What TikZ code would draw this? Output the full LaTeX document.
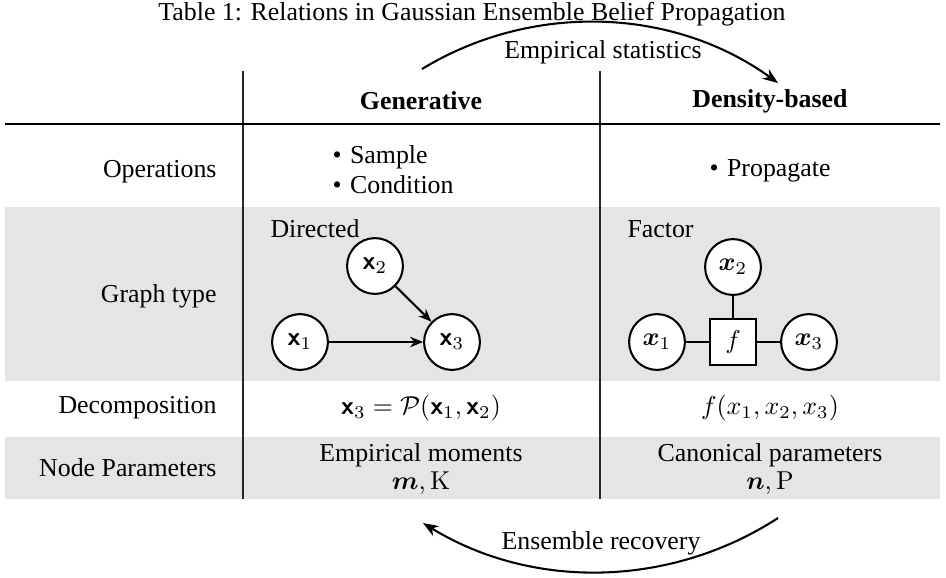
\documentclass[tikz,border=0pt]{standalone}
\usepackage{amsmath}
\usepackage[no-math]{fontspec}
\setmainfont{Liberation Serif}
\usetikzlibrary{arrows.meta}
\newcommand{\rvx}{\boldsymbol{\mathsf{x}}}
\newcommand{\opitem}[1]{\textbullet\hspace{3.3pt}#1}
\begin{document}
\begin{tikzpicture}[x=0.3868pt,y=-0.3868pt,
  txt/.style={inner sep=0pt},
  rowlabel/.style={txt, anchor=east},
  shade/.style={fill=black!10, draw=none},
  colrule/.style={line width=0.4pt, draw=black!85},
  toprule/.style={line width=0.6pt},
  var/.style={circle, draw, line width=0.8pt, fill=white, minimum size=21.6pt, inner sep=0pt},
  fac/.style={rectangle, draw, line width=0.8pt, fill=white, minimum size=17.8pt, inner sep=0pt},
  link/.style={line width=0.8pt},
  directed/.style={link, -{Stealth[length=5pt,width=4pt]}},
  swing/.style={line width=0.8pt, -{Stealth[length=6pt,width=4.5pt]}}
]
\useasboundingbox (0,0) rectangle (946,577);

% shaded rows
\fill[shade] (5,207) rectangle (940,381);
\fill[shade] (5,437) rectangle (940,499);

% column and header rules
\draw[colrule] (243,71) -- (243,499);
\draw[colrule] (600,71) -- (600,499);
\draw[toprule] (5,124) -- (940,124);

% caption
\node[txt] (caption) at (472,14) {Table 1: Relations in Gaussian Ensemble Belief Propagation};

% header
\node[txt] (hgen) at (421,101) {\textbf{Generative}};
\node[txt] (hden) at (770,101) {\textbf{Density-based}};

% operations row
\node[rowlabel] (lops) at (217,172) {Operations};
\node[txt, anchor=west] (opsample) at (332,157) {\opitem{Sample}};
\node[txt, anchor=west] (opcond) at (332,185) {\opitem{Condition}};
\node[txt] (opprop) at (770,171) {\opitem{Propagate}};

% graph type row
\node[rowlabel] (lgraph) at (217,296) {Graph type};
\node[txt, anchor=west] (gdir) at (270,229) {Directed};
\node[txt, anchor=west] (gfac) at (627,229) {Factor};

% directed graph
\node[var] (dx1) at (300,342) {$\rvx_1$};
\node[var] (dx2) at (375,266) {$\rvx_2$};
\node[var] (dx3) at (452,342) {$\rvx_3$};
\draw[directed] (dx1) -- (dx3);
\draw[directed] (dx2) -- (dx3);

% factor graph
\node[var] (fx1) at (657,342) {$\boldsymbol{x}_1$};
\node[var] (fx2) at (733,267) {$\boldsymbol{x}_2$};
\node[var] (fx3) at (809,342) {$\boldsymbol{x}_3$};
\node[fac] (ff) at (733,342) {$f$};
\draw[link] (fx1) -- (ff);
\draw[link] (ff) -- (fx3);
\draw[link] (fx2) -- (ff);

% decomposition row
\node[rowlabel] (ldec) at (217,408) {Decomposition};
\node[txt] (decgen) at (421,408) {$\rvx_3 = \mathcal{P}(\rvx_1, \rvx_2)$};
\node[txt] (decden) at (770,408) {$f(x_1, x_2, x_3)$};

% node parameters row
\node[rowlabel] (lpar) at (217,468) {Node Parameters};
\node[txt] (pgen) at (421,455) {Empirical moments};
\node[txt] (pgenm) at (421,483) {$\boldsymbol{m}, \mathrm{K}$};
\node[txt] (pden) at (770,455) {Canonical parameters};
\node[txt] (pdenm) at (770,483) {$\boldsymbol{n}, \mathrm{P}$};

% transitions between the two views
\coordinate (statA) at (422,69);
\coordinate (statB) at (778,83);
\draw[swing] (statA) .. controls (532,2) and (673,7) .. (statB);
\node[txt] (statlabel) at (603,52) {Empirical statistics};

\coordinate (recA) at (778,518);
\coordinate (recB) at (423,523);
\draw[swing] (recA) .. controls (670,588) and (532,590) .. (recB);
\node[txt] (reclabel) at (601,543) {Ensemble recovery};
\end{tikzpicture}
\end{document}
